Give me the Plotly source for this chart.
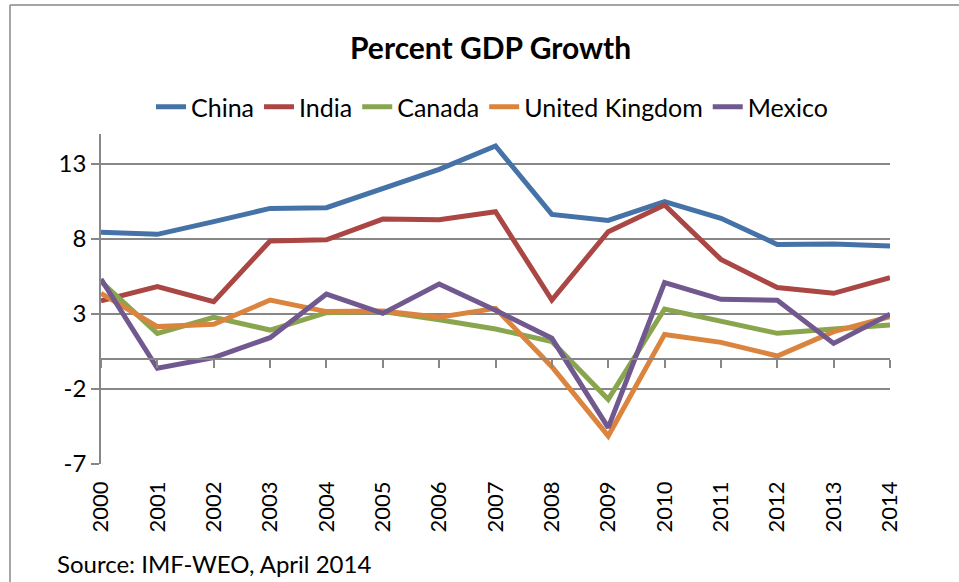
import plotly.graph_objects as go

years = list(range(2000, 2015))
china = [8.45, 8.31, 9.16, 10.04, 10.09, 11.33, 12.64, 14.2, 9.64, 9.24, 10.49, 9.38, 7.64, 7.67, 7.53]
india = [3.87, 4.82, 3.82, 7.87, 7.95, 9.33, 9.29, 9.82, 3.93, 8.49, 10.27, 6.64, 4.76, 4.38, 5.42]
canada = [5.16, 1.71, 2.78, 1.93, 3.09, 3.16, 2.62, 2.0, 1.16, -2.69, 3.33, 2.56, 1.71, 2.0, 2.27]
uk = [4.38, 2.16, 2.31, 3.93, 3.16, 3.2, 2.78, 3.38, -0.51, -5.13, 1.64, 1.11, 0.2, 1.82, 2.82]
mexico = [5.33, -0.62, 0.09, 1.42, 4.33, 3.04, 5.0, 3.25, 1.38, -4.58, 5.09, 3.98, 3.91, 1.04, 2.98]

series = [
    ("China", china, "#4572A7"),
    ("India", india, "#AA4643"),
    ("Canada", canada, "#89A54E"),
    ("United Kingdom", uk, "#DB843D"),
    ("Mexico", mexico, "#71588F"),
]
y_ticks = [-7, -2, 3, 8, 13]
y_labels = ["-7", "-2", "3", "8", "13"]

# body margin is removed by post_script, so figure coords == screen coords
W, H = 959, 582
ML, MT = 101, 134
PW, PH = 789, 330
MR, MB = W - ML - PW, H - MT - PH
YMIN, YMAX = -7, 15
GRID = "#878787"
FONT = "Lato"


def px_x(sx):
    return (sx - ML) / PW


def px_y(sy):
    return (MT + PH - sy) / PH


fig = go.Figure()
for name, vals, col in series:
    fig.add_trace(go.Scatter(x=years, y=vals, name=name, mode="lines",
                             line=dict(color=col, width=5)))

zero_pos = (0 - YMIN) / (YMAX - YMIN)

fig.update_layout(
    width=W, height=H,
    margin=dict(l=ML, r=MR, t=MT, b=MB, autoexpand=False),
    paper_bgcolor="white", plot_bgcolor="white",
    font=dict(family=FONT, color="black", size=22),
    showlegend=True,
    legend=dict(orientation="h", xref="container", yref="container",
                x=492 / W, xanchor="center",
                y=1 - 107 / H, yanchor="middle",
                font=dict(size=25, family=FONT), itemwidth=30,
                bgcolor="rgba(0,0,0,0)"),
    xaxis=dict(range=[2000, 2014], tickmode="array", tickvals=years,
               ticktext=[str(y) for y in years], tickangle=-90,
               showgrid=False, zeroline=False, showline=False, ticks="",
               tickfont=dict(size=22, family=FONT), ticklabelstandoff=12,
               automargin=False),
    xaxis2=dict(range=[2000, 2014], overlaying="x", anchor="free",
                position=zero_pos, tickmode="array", tickvals=years,
                ticks="outside", ticklen=8, tickwidth=1.5, tickcolor=GRID,
                showline=True, linecolor=GRID, linewidth=1.5,
                showticklabels=False, showgrid=False, zeroline=False,
                side="bottom", automargin=False),
    yaxis=dict(range=[YMIN, YMAX], tickmode="array", tickvals=y_ticks,
               ticktext=y_labels,
               showgrid=True, gridcolor=GRID, gridwidth=1.5,
               zeroline=False, showline=True, linecolor=GRID, linewidth=1.5,
               ticks="outside", ticklen=8, tickwidth=1.5, tickcolor=GRID,
               tickfont=dict(size=24, family=FONT), ticklabelstandoff=0,
               automargin=False),
)

# invisible trace to bind xaxis2
fig.add_trace(go.Scatter(x=[years[0]], y=[0], xaxis="x2", mode="markers",
                         marker=dict(opacity=0), showlegend=False,
                         hoverinfo="skip"))

fig.add_annotation(text="<b>Percent GDP Growth</b>", xref="paper", yref="paper",
                   x=px_x(490), y=px_y(47),
                   xanchor="center", yanchor="middle", showarrow=False,
                   font=dict(size=30, family=FONT, color="black"))
fig.add_annotation(text="Source: IMF-WEO, April 2014", xref="paper", yref="paper",
                   x=px_x(55), y=px_y(563),
                   xanchor="left", yanchor="middle", showarrow=False,
                   font=dict(size=24, family=FONT, color="black"))

# chart-area frame (left and top edges visible)
fig.add_shape(type="line", xref="paper", yref="paper",
              x0=px_x(10), x1=px_x(10), y0=px_y(582), y1=px_y(5),
              line=dict(color=GRID, width=1.5))
fig.add_shape(type="line", xref="paper", yref="paper",
              x0=px_x(10), x1=px_x(959), y0=px_y(5), y1=px_y(5),
              line=dict(color=GRID, width=1.5))

fig.write_html(
    "out.html",
    config={"displayModeBar": False},
    post_script="document.body.style.margin='0';"
                "document.body.style.overflow='hidden';",
)
